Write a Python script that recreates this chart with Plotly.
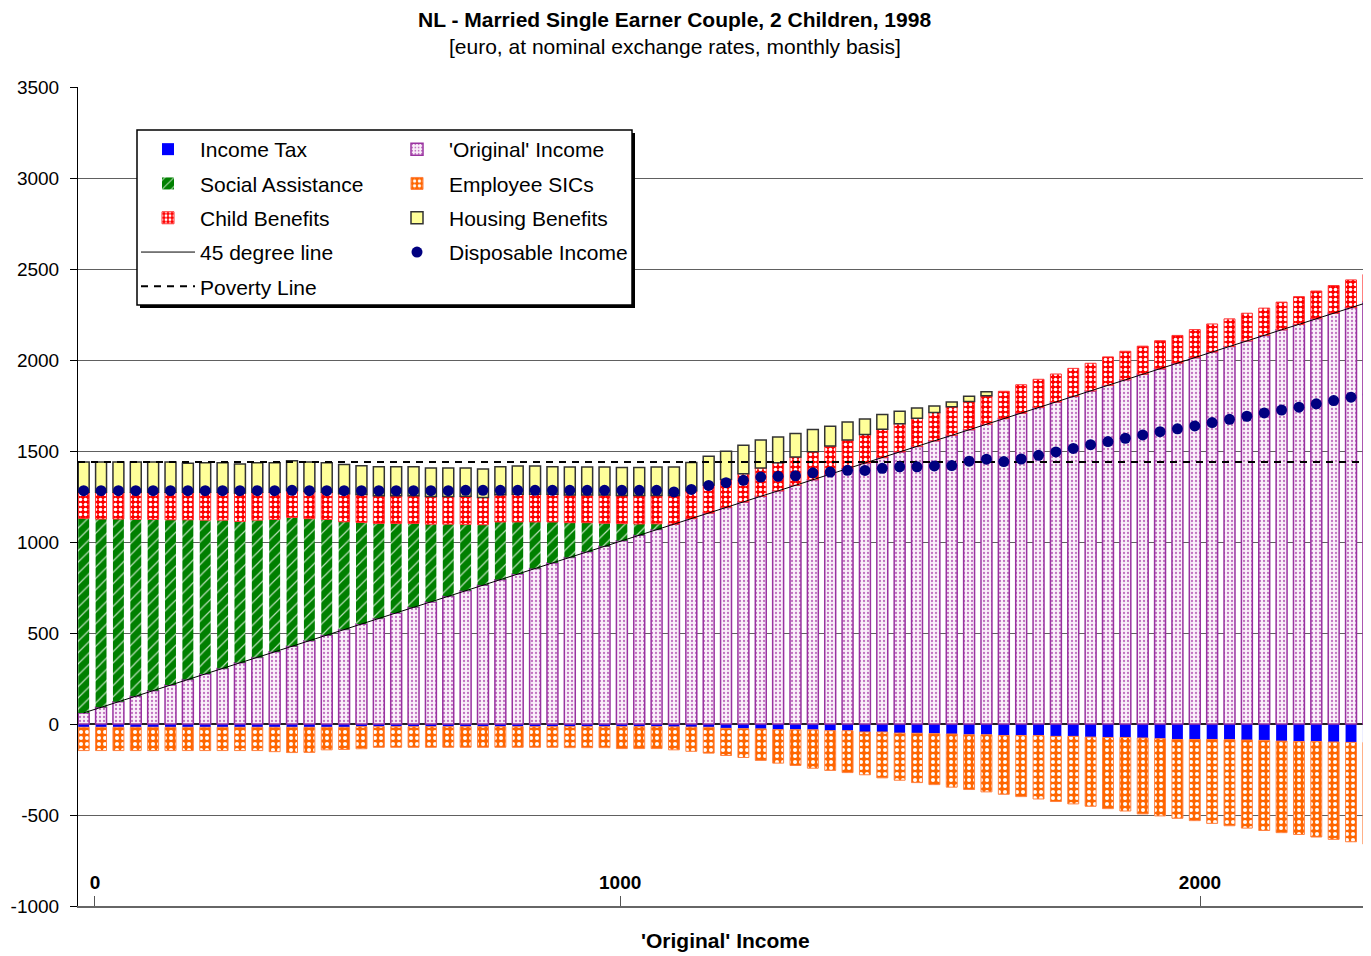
import plotly.graph_objects as go

# ---------------- data ----------------
original_income = [
    61, 92, 122, 153, 183, 214, 244, 275, 305, 336,
    366, 397, 427, 458, 488, 519, 549, 580, 610, 641,
    671, 702, 732, 763, 793, 824, 854, 885, 915, 946,
    976, 1007, 1037, 1068, 1098, 1129, 1159, 1190, 1220, 1251,
    1281, 1312, 1342, 1373, 1403, 1434, 1464, 1495, 1525, 1556,
    1586, 1617, 1647, 1678, 1708, 1739, 1769, 1800, 1830, 1861,
    1891, 1922, 1952, 1983, 2013, 2044, 2074, 2105, 2135, 2166,
    2196, 2227, 2257, 2288, 2318,
]
social_assistance = [
    1069, 1034, 1004, 971, 941, 908, 878, 845, 815, 777,
    754, 727, 708, 670, 636, 592, 558, 522, 492, 461,
    427, 396, 365, 332, 317, 286, 256, 225, 191, 160,
    127, 94, 62, 32, 0, 0, 0, 0, 0, 0,
    0, 0, 0, 0, 0, 0, 0, 0, 0, 0,
    0, 0, 0, 0, 0, 0, 0, 0, 0, 0,
    0, 0, 0, 0, 0, 0, 0, 0, 0, 0,
    0, 0, 0, 0, 0,
]
child_benefits = [
    144, 148, 148, 150, 150, 152, 152, 154, 154, 156,
    154, 150, 148, 150, 150, 154, 154, 152, 152, 152,
    152, 152, 154, 149, 150, 152, 152, 152, 152, 152,
    155, 155, 157, 155, 158, 152, 154, 154, 155, 155,
    155, 155, 154, 154, 157, 156, 155, 155, 155, 156,
    157, 155, 156, 150, 156, 155, 154, 154, 152, 156,
    157, 154, 154, 152, 154, 154, 152, 152, 150, 152,
    152, 152, 152, 152, 152,
]
housing_benefits = [
    165, 165, 165, 165, 165, 165, 159, 161, 161, 159,
    161, 161, 163, 161, 161, 161, 158, 159, 159, 159,
    156, 156, 156, 157, 154, 156, 156, 152, 154, 154,
    154, 154, 154, 157, 156, 156, 158, 154, 156, 154,
    141, 129, 122, 109, 100, 86, 81, 69, 56, 35,
    26, 29, 22, 0, 0, 0, 0, 0, 0, 0,
    0, 0, 0, 0, 0, 0, 0, 0, 0, 0,
    0, 0, 0, 0, 0,
]
income_tax = [
    -18, -18, -18, -18, -18, -18, -18, -18, -18, -18,
    -18, -18, -18, -18, -18, -18, -15, -15, -15, -15,
    -15, -15, -15, -15, -15, -15, -15, -15, -15, -15,
    -15, -15, -15, -15, -16, -17, -18, -24, -26, -27,
    -31, -31, -32, -37, -37, -44, -44, -50, -51, -53,
    -55, -59, -59, -63, -63, -63, -68, -68, -72, -74,
    -74, -77, -81, -85, -85, -85, -86, -88, -90, -94,
    -96, -96, -99, -101, -101,
]
employee_sics = [
    -128, -128, -128, -128, -128, -128, -128, -128, -128, -128,
    -128, -134, -139, -138, -124, -122, -121, -113, -113, -113,
    -113, -113, -113, -113, -113, -113, -113, -113, -115, -115,
    -115, -120, -120, -120, -126, -133, -142, -149, -158, -173,
    -184, -197, -211, -218, -230, -235, -252, -259, -271, -280,
    -292, -301, -314, -323, -336, -349, -358, -371, -380, -391,
    -404, -417, -424, -433, -446, -461, -473, -484, -495, -503,
    -511, -525, -535, -546, -559,
]
disposable_income = [
    1282, 1282, 1282, 1282, 1282, 1282, 1282, 1282, 1282, 1282,
    1282, 1282, 1284, 1282, 1282, 1282, 1282, 1282, 1282, 1282,
    1282, 1282, 1284, 1284, 1284, 1284, 1284, 1284, 1284, 1284,
    1284, 1284, 1284, 1284, 1275, 1289, 1311, 1326, 1339, 1357,
    1361, 1364, 1380, 1384, 1394, 1393, 1405, 1413, 1413, 1418,
    1420, 1444, 1455, 1442, 1456, 1476, 1495, 1514, 1535, 1552,
    1570, 1588, 1606, 1622, 1638, 1656, 1674, 1691, 1709, 1725,
    1741, 1759, 1777, 1796, 1812,
]
poverty_line = 1440

x_tick_labels = ["0", "1000", "2000"]
x_tick_slots = [0.65, 30.9, 64.3]          # where the labels sit along the bars
y_tick_values = [-1000, -500, 0, 500, 1000, 1500, 2000, 2500, 3000, 3500]
y_tick_labels = ["-1000", "-500", "0", "500", "1000", "1500", "2000", "2500", "3000", "3500"]
y_range = [-1000, 3500]
x_range = [-0.328, 74.15]

bar_pos = list(range(len(original_income)))


def nz(vals):
    return [v if v else None for v in vals]


FONT = "Liberation Sans, Arial, Helvetica, sans-serif"

# The page body adds an 8px margin, so the figure is drawn 8px smaller and
# all screen positions below are given in window pixels.
OFF = 8
W, H = 1371, 956
FIG_W, FIG_H = W - OFF, H - OFF
PL, PR, PT, PB = 78, 1371, 87, 906      # plot area in window pixels


def px_x(p):
    return (p - PL) / (PR - PL)


def px_y(p):
    return (PB - p) / (PB - PT)


fig = go.Figure()

# negative stack
fig.add_trace(go.Bar(
    x=bar_pos, y=nz(income_tax), name="Income Tax",
    marker=dict(color="#0000FF", line=dict(width=0)),
    legend="legend", legendgroup="a1", legendrank=1,
))
# positive stack
fig.add_trace(go.Bar(
    x=bar_pos, y=original_income, name="'Original' Income",
    marker=dict(color="#F8ECF8",
                line=dict(color="#9933A0", width=1.5),
                pattern=dict(shape=".", fgcolor="#C070C0", bgcolor="#FAF0FA",
                             size=4, solidity=0.25, fillmode="replace")),
    legend="legend2", legendgroup="b1", legendrank=1,
))
fig.add_trace(go.Bar(
    x=bar_pos, y=nz(social_assistance), name="Social Assistance",
    marker=dict(color="#008000", line=dict(width=0),
                pattern=dict(shape="/", fgcolor="#B8E0B8", bgcolor="#008000",
                             size=8, solidity=0.15, fillmode="replace")),
    legend="legend", legendgroup="a2", legendrank=2,
))
fig.add_trace(go.Bar(
    x=bar_pos, y=nz(employee_sics), name="Employee SICs",
    marker=dict(color="#FF6600", line=dict(color="#FF8040", width=1),
                pattern=dict(shape=".", fgcolor="#FFFFFF", bgcolor="#FF6600",
                             size=6, solidity=0.35, fillmode="replace")),
    legend="legend2", legendgroup="b2", legendrank=2,
))
fig.add_trace(go.Bar(
    x=bar_pos, y=nz(child_benefits), name="Child Benefits",
    marker=dict(color="#FF0000", line=dict(color="#FF3030", width=1),
                pattern=dict(shape=".", fgcolor="#FFFFFF", bgcolor="#FF0000",
                             size=5, solidity=0.4, fillmode="replace")),
    legend="legend", legendgroup="a3", legendrank=3,
))
fig.add_trace(go.Bar(
    x=bar_pos, y=nz(housing_benefits), name="Housing Benefits",
    marker=dict(color="#FFFF99", line=dict(color="#333333", width=1.5)),
    legend="legend2", legendgroup="b3", legendrank=3,
))
# lines / points
fig.add_trace(go.Scatter(
    x=bar_pos, y=original_income, name="45 degree line", mode="lines",
    line=dict(color="#000000", width=1),
    legend="legend", legendgroup="a4", legendrank=4,
))
fig.add_trace(go.Scatter(
    x=x_range, y=[poverty_line, poverty_line], name="Poverty Line", mode="lines",
    line=dict(color="#000000", width=2, dash="7px,6px"),
    legend="legend", legendgroup="a5", legendrank=5,
))
fig.add_trace(go.Scatter(
    x=bar_pos, y=disposable_income, name="Disposable Income", mode="markers",
    marker=dict(color="#000080", size=11, line=dict(width=0)),
    legend="legend2", legendgroup="b4", legendrank=4,
))

legend_common = dict(
    bgcolor="rgba(0,0,0,0)", borderwidth=0,
    font=dict(family=FONT, size=21, color="#000000"),
    itemwidth=54, tracegroupgap=4, traceorder="grouped",
    orientation="v", xanchor="left", yanchor="top", itemclick=False,
)

fig.update_layout(
    width=FIG_W, height=FIG_H, autosize=False,
    margin=dict(l=PL - OFF, r=FIG_W - (PR - OFF), t=PT - OFF, b=FIG_H - (PB - OFF), pad=0),
    paper_bgcolor="#FFFFFF", plot_bgcolor="#FFFFFF",
    barmode="relative", bargap=0.37,
    font=dict(family=FONT, size=19, color="#000000"),
    legend=dict(x=px_x(136), y=px_y(129), **legend_common),
    legend2=dict(x=px_x(385), y=px_y(129), **legend_common),
    xaxis=dict(
        range=x_range, showgrid=False, zeroline=False,
        showline=True, linecolor="#666666", linewidth=2,
        tickmode="array", tickvals=x_tick_slots, ticktext=x_tick_labels,
        ticks="inside", ticklen=10, tickcolor="#555555", tickwidth=1,
        ticklabelposition="outside", ticklabelstandoff=-42,
        tickfont=dict(family=FONT, size=19, color="#000000", weight="bold"),
        fixedrange=True,
    ),
    yaxis=dict(
        range=y_range, tickmode="array", tickvals=y_tick_values, ticktext=y_tick_labels,
        showgrid=True, gridcolor="#606060", gridwidth=1,
        zeroline=True, zerolinecolor="#222222", zerolinewidth=1.5,
        showline=True, linecolor="#000000", linewidth=1,
        ticks="outside", ticklen=7, tickcolor="#000000",
        ticklabelstandoff=7,
        tickfont=dict(family=FONT, size=19, color="#000000"),
        fixedrange=True,
    ),
    shapes=[
        dict(type="rect", xref="paper", yref="paper",
             x0=px_x(140), x1=px_x(635), y0=px_y(308), y1=px_y(133),
             fillcolor="#000000", line=dict(width=0), layer="above"),
        dict(type="rect", xref="paper", yref="paper",
             x0=px_x(137), x1=px_x(632), y0=px_y(305), y1=px_y(130),
             fillcolor="#FFFFFF", line=dict(color="#000000", width=1.5), layer="above"),
    ],
    annotations=[
        dict(text="<b>NL - Married Single Earner Couple, 2 Children, 1998</b>",
             xref="paper", yref="paper", x=px_x(674), y=px_y(19),
             xanchor="center", yanchor="middle", showarrow=False,
             font=dict(family=FONT, size=21, color="#000000")),
        dict(text="[euro, at nominal exchange rates, monthly basis]",
             xref="paper", yref="paper", x=px_x(675), y=px_y(47),
             xanchor="center", yanchor="middle", showarrow=False,
             font=dict(family=FONT, size=21, color="#000000")),
        dict(text="<b>'Original' Income</b>",
             xref="paper", yref="paper", x=px_x(725), y=px_y(940),
             xanchor="center", yanchor="middle", showarrow=False,
             font=dict(family=FONT, size=21, color="#000000")),
    ],
)

fig.write_html("out.html")
